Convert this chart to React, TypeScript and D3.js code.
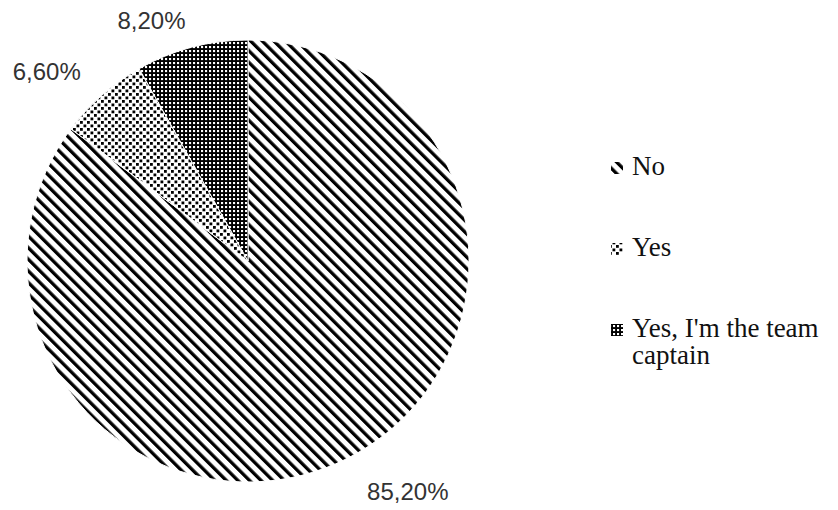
import React from "react";
import * as d3 from "d3";

const categories = ["No", "Yes", "Yes, I'm the team captain"];
const values = [85.2, 6.6, 8.2];
const valueLabels = ["85,20%", "6,60%", "8,20%"];
const legendLines = [["No"], ["Yes"], ["Yes, I'm the team", "captain"]];
const patternIds = ["pNo", "pYes", "pCaptain"];

// layout constants
const W = 838;
const H = 510;
const CX = 248;
const CY = 261;
const R = 221;
const LABEL_R = 265;
const labelNudge: [number, number][] = [
  [41, -6],
  [-26, 9],
  [-29, 16],
];

export default function App() {
  const pie = d3
    .pie<number>()
    .sort(null)
    .value((d) => d)
    .startAngle(0)
    .endAngle(2 * Math.PI);
  const arcs = pie(values);
  const arc = d3.arc<d3.PieArcDatum<number>>().innerRadius(0).outerRadius(R);

  const legendY = d3.scaleLinear().domain([0, 1]).range([175, 256]);

  return (
    <svg
      width={W}
      height={H}
      style={{ position: "absolute", left: 0, top: 0, background: "#fff" }}
    >
      <defs>
        <pattern
          id="pNo"
          patternUnits="userSpaceOnUse"
          width={8.2}
          height={8.2}
          patternTransform="rotate(-45)"
        >
          <rect x={0} y={0} width={8.2} height={8.2} fill="#fff" />
          <rect x={0} y={0} width={3.3} height={8.2} fill="#000" />
        </pattern>
        <pattern id="pYes" patternUnits="userSpaceOnUse" width={7} height={7}>
          <rect x={0} y={0} width={7} height={7} fill="#fff" />
          <rect x={0} y={0} width={2.8} height={2.8} fill="#000" />
          <rect x={3.5} y={3.5} width={2.8} height={2.8} fill="#000" />
        </pattern>
        <pattern id="pCaptain" patternUnits="userSpaceOnUse" width={4} height={4}>
          <rect x={0} y={0} width={4} height={4} fill="#000" />
          <rect x={1} y={1} width={2.1} height={2.1} fill="#fff" />
        </pattern>
      </defs>
      <rect x={0} y={0} width={W} height={H} fill="#fff" />
      <g transform={`translate(${CX},${CY})`}>
        {arcs.map((a, i) => (
          <path
            key={categories[i]}
            d={arc(a) || ""}
            fill={`url(#${patternIds[i]})`}
            stroke="#fff"
            strokeWidth={1}
          />
        ))}
        {arcs.map((a, i) => {
          const mid = (a.startAngle + a.endAngle) / 2;
          const x = LABEL_R * Math.sin(mid) + labelNudge[i][0];
          const y = -LABEL_R * Math.cos(mid) + labelNudge[i][1];
          return (
            <text
              key={"l" + i}
              x={x}
              y={y}
              textAnchor="middle"
              dominantBaseline="central"
              fontFamily="'Liberation Sans', Arial, sans-serif"
              fontSize={24}
              fill="#333"
            >
              {valueLabels[i]}
            </text>
          );
        })}
      </g>
      <g>
        {categories.map((c, i) => {
          const by = legendY(i);
          return (
            <g key={"lg" + c}>
              <rect
                x={611}
                y={by - 13}
                width={12}
                height={12}
                fill={`url(#${patternIds[i]})`}
              />
              <text
                x={632}
                y={by}
                fontFamily="'Liberation Serif', 'Times New Roman', serif"
                fontSize={27}
                fill="#111"
              >
                {legendLines[i].map((ln, j) => (
                  <tspan key={j} x={632} dy={j === 0 ? 0 : 27}>
                    {ln}
                  </tspan>
                ))}
              </text>
            </g>
          );
        })}
      </g>
    </svg>
  );
}
